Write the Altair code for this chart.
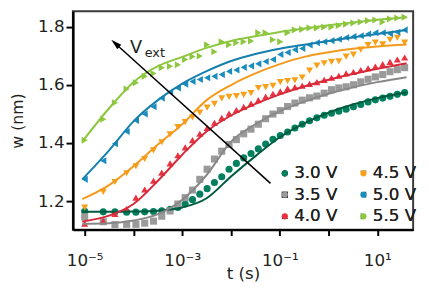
import altair as alt
import pandas as pd

FONT = "DejaVu Sans"

# ---- measured data (log10 of time in s) ----
log_t = [-5.0, -4.62, -4.38, -4.14, -3.95, -3.77, -3.59, -3.42, -3.25, -3.09,
         -2.94, -2.79, -2.64, -2.49, -2.34, -2.19, -2.04, -1.89, -1.74, -1.59,
         -1.44, -1.29, -1.14, -0.99, -0.84, -0.69, -0.54, -0.39, -0.24, -0.09,
         0.06, 0.21, 0.36, 0.51, 0.66, 0.81, 0.96, 1.11, 1.26, 1.41, 1.56]

w_30 = [1.165, 1.163, 1.163, 1.162, 1.162, 1.163, 1.164, 1.167, 1.172, 1.178,
        1.190, 1.205, 1.224, 1.243, 1.264, 1.284, 1.310, 1.330, 1.349, 1.364,
        1.380, 1.397, 1.413, 1.426, 1.438, 1.452, 1.465, 1.477, 1.487, 1.496,
        1.503, 1.510, 1.517, 1.525, 1.533, 1.542, 1.549, 1.555, 1.561, 1.568, 1.574]
w_35 = [1.146, 1.129, 1.119, 1.120, 1.120, 1.124, 1.131, 1.148, 1.166, 1.190,
        1.212, 1.238, 1.275, 1.310, 1.345, 1.372, 1.395, 1.412, 1.432, 1.448,
        1.465, 1.484, 1.500, 1.512, 1.526, 1.538, 1.548, 1.556, 1.562, 1.572,
        1.584, 1.590, 1.594, 1.601, 1.611, 1.620, 1.628, 1.636, 1.646, 1.653, 1.660]
w_40 = [1.122, 1.132, 1.156, 1.173, 1.212, 1.240, 1.270, 1.298, 1.330, 1.358,
        1.385, 1.410, 1.432, 1.452, 1.470, 1.487, 1.502, 1.514, 1.525, 1.536,
        1.548, 1.560, 1.570, 1.578, 1.588, 1.593, 1.598, 1.604, 1.610, 1.618,
        1.625, 1.632, 1.640, 1.645, 1.652, 1.658, 1.664, 1.672, 1.680, 1.688, 1.695]
w_45 = [1.178, 1.232, 1.266, 1.296, 1.320, 1.345, 1.375, 1.403, 1.430, 1.455,
        1.472, 1.488, 1.505, 1.522, 1.535, 1.554, 1.559, 1.562, 1.566, 1.572,
        1.590, 1.593, 1.597, 1.610, 1.614, 1.616, 1.626, 1.650, 1.667, 1.675,
        1.680, 1.682, 1.698, 1.705, 1.722, 1.738, 1.746, 1.740, 1.756, 1.763, 1.746]
w_50 = [1.275, 1.339, 1.398, 1.440, 1.478, 1.500, 1.525, 1.555, 1.575, 1.590,
        1.603, 1.612, 1.619, 1.625, 1.630, 1.636, 1.647, 1.652, 1.661, 1.666,
        1.673, 1.681, 1.688, 1.705, 1.712, 1.722, 1.726, 1.738, 1.746, 1.749,
        1.753, 1.758, 1.764, 1.767, 1.770, 1.776, 1.780, 1.780, 1.777, 1.782, 1.790]
w_55 = [1.410, 1.482, 1.539, 1.586, 1.608, 1.630, 1.640, 1.660, 1.665, 1.670,
        1.688, 1.698, 1.700, 1.739, 1.715, 1.749, 1.739, 1.746, 1.749, 1.752,
        1.780, 1.780, 1.756, 1.749, 1.780, 1.790, 1.792, 1.797, 1.797, 1.800,
        1.800, 1.805, 1.810, 1.814, 1.817, 1.822, 1.824, 1.817, 1.828, 1.831, 1.834]

# ---- fitted curves ----
fit_log_t = [-5.05, -4.5, -4.0, -3.5, -3.0, -2.5, -2.0, -1.5, -1.0, -0.5, 0.0, 0.5, 1.0, 1.6]
fit_30 = [1.163, 1.163, 1.164, 1.167, 1.178, 1.210, 1.285, 1.355, 1.420, 1.468, 1.505, 1.533, 1.555, 1.574]
fit_35 = [1.122, 1.124, 1.133, 1.155, 1.205, 1.290, 1.405, 1.465, 1.510, 1.543, 1.570, 1.592, 1.610, 1.627]
fit_40 = [1.130, 1.150, 1.190, 1.270, 1.360, 1.440, 1.495, 1.535, 1.568, 1.595, 1.618, 1.638, 1.656, 1.675]
fit_45 = [1.207, 1.255, 1.320, 1.395, 1.465, 1.548, 1.600, 1.640, 1.672, 1.697, 1.713, 1.725, 1.733, 1.740]
fit_50 = [1.275, 1.375, 1.475, 1.548, 1.605, 1.648, 1.683, 1.707, 1.725, 1.739, 1.752, 1.764, 1.776, 1.790]
fit_55 = [1.405, 1.520, 1.610, 1.665, 1.697, 1.728, 1.752, 1.768, 1.783, 1.795, 1.806, 1.816, 1.825, 1.834]

series = ["3.0 V", "3.5 V", "4.0 V", "4.5 V", "5.0 V", "5.5 V"]
marker_color = {"3.0 V": "#00805e", "3.5 V": "#9a9a9a", "4.0 V": "#e8323f",
                "4.5 V": "#f7a11a", "5.0 V": "#1a8cbe", "5.5 V": "#8dc63f"}
line_color = {"3.0 V": "#005a40", "3.5 V": "#888888", "4.0 V": "#d62a3a",
              "4.5 V": "#f39a1e", "5.0 V": "#157fae", "5.5 V": "#8dc63f"}
marker_shape = {"3.0 V": "circle", "3.5 V": "square", "4.0 V": "triangle-up",
                "4.5 V": "triangle-down", "5.0 V": "triangle-left", "5.5 V": "triangle-right"}

# axes
x_tick_exps = [-5, -4, -3, -2, -1, 0, 1]
x_tick_labels = {-5: "10\u207b\u2075", -3: "10\u207b\u00b3", -1: "10\u207b\u00b9", 1: "10\u00b9"}
y_ticks = [1.2, 1.4, 1.6, 1.8]
x_domain_exp = [-5.242, 1.734]
y_domain = [1.1017, 1.854]

# annotation (arrow and V_ext label)
arrow_tail = [-1.19, 1.261]
arrow_head = [-4.373, 1.7434]
v_label = [-4.073, 1.712]
ext_label = [-3.77, 1.698]

# ---- tables ----
pts = pd.DataFrame([
    {"t": 10 ** e, "w": v, "V": name}
    for name, vals in zip(series, [w_30, w_35, w_40, w_45, w_50, w_55])
    for e, v in zip(log_t, vals)
])
fits = pd.DataFrame([
    {"t": 10 ** e, "w": v, "Vl": name}
    for name, vals in zip(series, [fit_30, fit_35, fit_40, fit_45, fit_50, fit_55])
    for e, v in zip(fit_log_t, vals)
])

xs = alt.Scale(type="log", domain=[10 ** x_domain_exp[0], 10 ** x_domain_exp[1]], nice=False)
ys = alt.Scale(domain=y_domain, nice=False, zero=False)

expr = "''"
for k in sorted(x_tick_labels, reverse=True):
    expr = f"round(log(datum.value)/LN10) == {k} ? '{x_tick_labels[k]}' : " + expr

x_axis = alt.Axis(values=[10 ** e for e in x_tick_exps], labelExpr=expr, title="t (s)",
                  grid=False, tickSize=6, tickWidth=2, tickColor="black",
                  domainColor="black", domainWidth=2.5, labelFont=FONT, labelFontSize=17,
                  labelPadding=17, labelColor="#231f20", labelOverlap=False, labelFlush=False,
                  titleFont=FONT, titleFontSize=17, titleFontWeight="normal",
                  titleColor="#231f20", titleBaseline="alphabetic", titleY=50)
y_axis = alt.Axis(values=y_ticks, format=".1f", title="w (nm)", grid=False,
                  tickSize=7, tickWidth=2, tickColor="black", domainColor="black",
                  domainWidth=2.5, labelFont=FONT, labelFontSize=17, labelPadding=2,
                  labelColor="#231f20", titleFont=FONT, titleFontSize=16,
                  titleFontWeight="normal", titleColor="#231f20",
                  titleBaseline="alphabetic", titleX=-51, titleY=111, titleAlign="center")

leg = alt.Legend(title=None, orient="none", legendX=207, legendY=156, columns=2,
                 columnPadding=17, rowPadding=4, symbolSize=40, symbolStrokeWidth=0,
                 symbolOpacity=1, labelFont=FONT, labelFontSize=17, labelOffset=1,
                 labelColor="#231f20", padding=0)

points = alt.Chart(pts).mark_point(filled=True, size=52, opacity=1).encode(
    x=alt.X("t:Q", scale=xs, axis=x_axis),
    y=alt.Y("w:Q", scale=ys, axis=y_axis),
    color=alt.Color("V:N", scale=alt.Scale(domain=series,
                    range=[marker_color[s] for s in series]), legend=leg),
    shape=alt.Shape("V:N", scale=alt.Scale(domain=series,
                    range=[marker_shape[s] for s in series]), legend=leg),
)

lines = alt.Chart(fits).mark_line(strokeWidth=2, interpolate="monotone").encode(
    x=alt.X("t:Q", scale=xs),
    y=alt.Y("w:Q", scale=ys),
    color=alt.Color("Vl:N", scale=alt.Scale(domain=series,
                    range=[line_color[s] for s in series]), legend=None),
)

arrow_df = pd.DataFrame([{"t": 10 ** arrow_tail[0], "w": arrow_tail[1],
                          "t2": 10 ** arrow_head[0], "w2": arrow_head[1]}])
arrow = alt.Chart(arrow_df).mark_rule(color="black", strokeWidth=1.5).encode(
    x=alt.X("t:Q", scale=xs), y=alt.Y("w:Q", scale=ys), x2="t2:Q", y2="w2:Q")

head_df = pd.DataFrame([{"t": 10 ** arrow_head[0], "w": arrow_head[1]}])
head = alt.Chart(head_df).mark_point(shape="M0,-1L0.55,1L-0.55,1Z", filled=True,
                                     color="black", size=121, angle=312, opacity=1).encode(
    x=alt.X("t:Q", scale=xs), y=alt.Y("w:Q", scale=ys))

lab_df = pd.DataFrame([
    {"t": 10 ** v_label[0], "w": v_label[1], "txt": "V", "fs": 18},
    {"t": 10 ** ext_label[0], "w": ext_label[1], "txt": "ext", "fs": 13},
])
v_text = alt.Chart(lab_df).mark_text(align="left", baseline="alphabetic", font=FONT,
                                      color="#231f20").encode(
    x=alt.X("t:Q", scale=xs), y=alt.Y("w:Q", scale=ys), text="txt:N",
    size=alt.Size("fs:Q", scale=None, legend=None))

chart = alt.layer(points, lines, arrow, head, v_text).resolve_scale(
    color="independent"
).properties(
    width=346, height=222,
    autosize=alt.AutoSizeParams(type="none"),
    padding={"left": 66, "top": 1, "right": 8, "bottom": 60},
).configure_view(stroke="#3a3a3a", strokeWidth=2)

chart.save("out.html", embed_options={"renderer": "svg", "actions": False})
